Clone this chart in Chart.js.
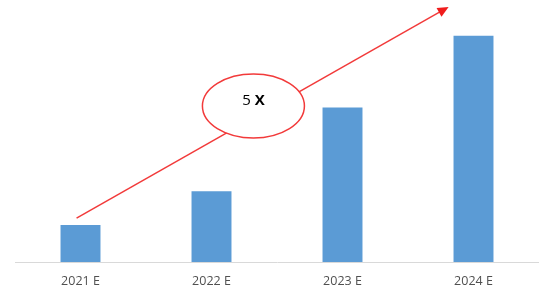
<!DOCTYPE html>
<html lang="en">

<head>
    <meta charset="UTF-8">
    <title>Growth chart</title>
    <script src="https://cdn.jsdelivr.net/npm/chart.js"></script>
    <style>
        body { margin: 0; background: #fff; }
    </style>
</head>

<body>
    <canvas id="chart" width="539" height="298"></canvas>
    <script>
        // values (relative heights)
        const labels = ['2021 E', '2022 E', '2023 E', '2024 E'];
        const values = [1.0, 1.92, 4.19, 6.13];
        const yMax = 7.1;

        // arrow and bubble, in data terms (category index, value)
        const arrowFrom = [-0.03, 1.19];
        const arrowTo = [2.81, 6.91];
        const bubbleAt = [1.32, 4.23];
        const bubbleText = ['5 ', 'X'];

        const growthArrow = {
            id: 'growthArrow',
            afterDatasetsDraw(chart) {
                const ctx = chart.ctx;
                const x = chart.scales.x, y = chart.scales.y;
                const x1 = x.getPixelForValue(arrowFrom[0]), y1 = y.getPixelForValue(arrowFrom[1]);
                const x2 = x.getPixelForValue(arrowTo[0]), y2 = y.getPixelForValue(arrowTo[1]);
                const ang = Math.atan2(y2 - y1, x2 - x1);
                ctx.save();
                ctx.strokeStyle = '#f23a3a';
                ctx.fillStyle = '#f01c1c';
                ctx.lineWidth = 1.5;
                ctx.beginPath();
                ctx.moveTo(x1, y1);
                ctx.lineTo(x2 - 8 * Math.cos(ang), y2 - 8 * Math.sin(ang));
                ctx.stroke();
                // head
                ctx.beginPath();
                ctx.moveTo(x2, y2);
                ctx.lineTo(x2 - 11 * Math.cos(ang) + 5 * Math.sin(ang), y2 - 11 * Math.sin(ang) - 5 * Math.cos(ang));
                ctx.lineTo(x2 - 11 * Math.cos(ang) - 5 * Math.sin(ang), y2 - 11 * Math.sin(ang) + 5 * Math.cos(ang));
                ctx.closePath();
                ctx.fill();
                // bubble
                const cx = x.getPixelForValue(bubbleAt[0]), cy = y.getPixelForValue(bubbleAt[1]);
                ctx.beginPath();
                ctx.ellipse(cx, cy, 51, 32, 0, 0, Math.PI * 2);
                ctx.fillStyle = '#fff';
                ctx.fill();
                ctx.strokeStyle = '#f23a3a';
                ctx.stroke();
                ctx.fillStyle = '#000';
                ctx.textBaseline = 'middle';
                ctx.font = '15px "Open Sans", sans-serif';
                const w1 = ctx.measureText(bubbleText[0]).width;
                ctx.font = 'bold 15px "Open Sans", sans-serif';
                const w2 = ctx.measureText(bubbleText[1]).width;
                let tx = cx - (w1 + w2) / 2;
                ctx.font = '15px "Open Sans", sans-serif';
                ctx.fillText(bubbleText[0], tx, cy - 5);
                ctx.font = 'bold 15px "Open Sans", sans-serif';
                ctx.fillText(bubbleText[1], tx + w1, cy - 5);
                ctx.restore();
            }
        };

        new Chart(document.getElementById('chart'), {
            type: 'bar',
            data: {
                labels: labels,
                datasets: [{
                    data: values,
                    backgroundColor: '#5b9bd5',
                    borderWidth: 0,
                    categoryPercentage: 1,
                    barPercentage: 0.305
                }]
            },
            options: {
                responsive: false,
                animation: false,
                layout: { padding: { left: 15, right: 0, top: 0, bottom: 0 } },
                plugins: { legend: { display: false }, tooltip: { enabled: false } },
                scales: {
                    x: {
                        grid: { display: false, drawTicks: false },
                        border: { display: true, color: '#d9d9d9', width: 1 },
                        ticks: { color: '#505050', padding: 12, font: { size: 12.5, family: '"Open Sans", sans-serif' } },
                        afterFit(scale) { scale.height = 36; }
                    },
                    y: {
                        display: false,
                        min: 0,
                        max: yMax
                    }
                }
            },
            plugins: [growthArrow]
        });
    </script>
</body>

</html>
